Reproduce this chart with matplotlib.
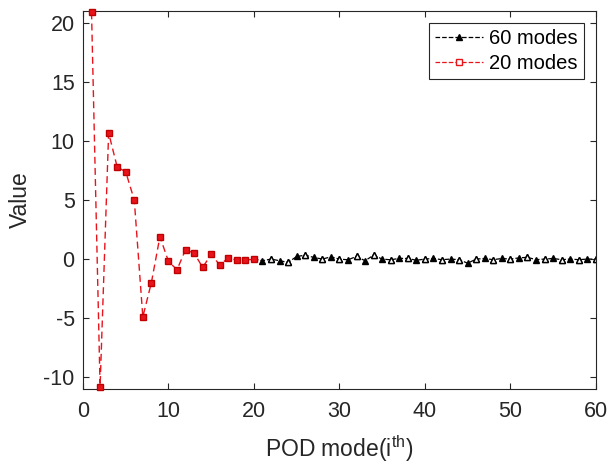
import numpy as np
import matplotlib.pyplot as plt
from matplotlib.lines import Line2D

plt.rcParams['font.family'] = ['Liberation Sans', 'DejaVu Sans']
plt.rcParams['axes.unicode_minus'] = False

# POD mode coefficients
modes_20 = np.arange(1, 21)
vals_20 = [20.9, -10.8, 10.7, 7.8, 7.4, 5.0, -4.9, -2.0, 1.9, -0.2,
           -0.9, 0.8, 0.5, -0.7, 0.4, -0.5, 0.1, -0.1, -0.1, 0.0]

modes_60 = np.arange(1, 61)
vals_60 = vals_20 + [-0.14, 0.0, -0.14, -0.28, 0.22, 0.33, 0.14, 0.0, 0.19, 0.0,
                     -0.06, 0.22, -0.14, 0.33, 0.0, -0.06, 0.06, 0.05, -0.1, 0.0,
                     0.05, -0.05, 0.0, -0.05, -0.35, 0.0, 0.05, -0.05, 0.05, 0.0,
                     0.1, 0.15, -0.05, 0.0, 0.05, -0.05, 0.0, -0.05, 0.0, 0.0]

xticks = np.arange(0, 61, 10)
yticks = np.arange(-10, 21, 5)

RED = '#e8141c'

fig = plt.figure(figsize=(6.08, 4.68), dpi=100)
ax = fig.add_axes([0.1365, 0.169, 0.8435, 0.807])

# the 60-mode curve is hidden under the 20-mode curve for the first 20 modes
x60 = modes_60[19:]
y60 = np.array(vals_60[19:])
ax.plot(x60, y60, color='black', linestyle='--', linewidth=0.9,
        marker='^', markersize=4.5, markerfacecolor='black', markevery=slice(1, None))
# every other triangle drawn open, like the source image
ax.plot(x60[2::2], y60[2::2], linestyle='none', marker='^',
        markersize=4.5, markerfacecolor='white', markeredgecolor='black')
ax.plot(modes_20, vals_20, color=RED, linestyle='--', linewidth=1.0,
        dashes=(5, 3), marker='s', markersize=4.5, markerfacecolor=RED,
        markeredgecolor='#c00000', clip_on=False, zorder=5)

ax.set_xlim(0, 60)
ax.set_ylim(-11, 21)
ax.set_xticks(xticks)
ax.set_yticks(yticks)
ax.tick_params(direction='in', top=True, right=True, labelsize=15.5,
               length=4, width=0.8, colors='#262626')
ax.tick_params(axis='x', pad=9)
ax.tick_params(axis='y', pad=6)
for s in ax.spines.values():
    s.set_color('#262626')
    s.set_linewidth(0.8)

ax.set_xlabel('POD mode(i$^{\\mathregular{th}}$)', fontsize=16.5, color='#262626',
              labelpad=8)
ax.set_ylabel('Value', fontsize=16.5, color='#262626', labelpad=8)

h = [Line2D([], [], color='black', linestyle='--', linewidth=0.9, marker='^',
            markersize=4.5, markerfacecolor='black'),
     Line2D([], [], color=RED, linestyle='--', linewidth=0.9, marker='s',
            markersize=4.5, markerfacecolor='white', markeredgecolor=RED)]
leg = ax.legend(h, ['60 modes', '20 modes'], loc='upper right', fontsize=14.5,
                fancybox=False, edgecolor='#262626', framealpha=1,
                handlelength=2.4, borderaxespad=0.6, borderpad=0.3,
                labelspacing=0.3, handletextpad=0.3)
leg.get_frame().set_linewidth(0.8)
leg.set_zorder(10)

fig.savefig('out.png', dpi=100)
